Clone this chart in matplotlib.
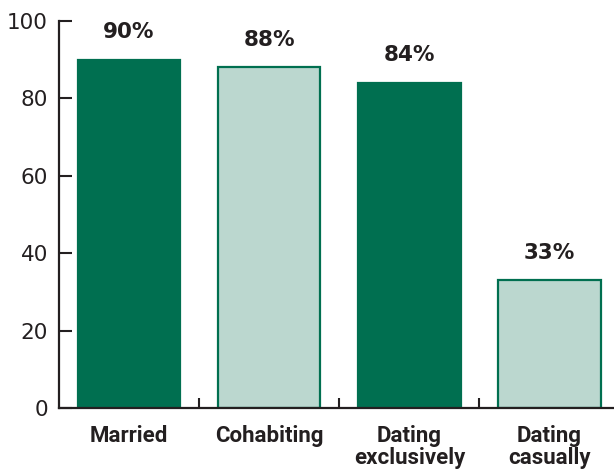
import matplotlib
matplotlib.use("Agg")
import matplotlib.pyplot as plt

categories = ["Married", "Cohabiting", "Dating\nexclusively", "Dating\ncasually"]
values = [90, 88, 84, 33]
value_labels = ["90%", "88%", "84%", "33%"]

dark = "#006f50"
light = "#bbd7cf"
ink = "#231f20"
fills = [dark, light, dark, light]

fig = plt.figure(figsize=(6.14, 4.74), dpi=100)
ax = fig.add_axes([0.096, 0.139, 0.904, 0.817])

x = range(len(categories))
ax.bar(x, values, width=0.73, color=fills, edgecolor=dark, linewidth=1.6)

for i, v in enumerate(values):
    ax.text(i, v + 4.5, value_labels[i], ha="center", va="bottom",
            fontsize=15.5, fontweight="bold", color=ink)

ax.set_xlim(-0.5, 3.46)
ax.set_ylim(0, 100)
ax.set_yticks([0, 20, 40, 60, 80, 100])
ax.tick_params(axis="y", direction="in", length=9, width=1.5, color=ink,
               labelsize=15.5, labelcolor=ink, pad=8)

ax.set_xticks(list(x))
ax.set_xticklabels(categories, fontsize=16, fontweight="bold", color=ink,
                   linespacing=1.0, va="top",
                   family=["Roboto", "DejaVu Sans"])
ax.tick_params(axis="x", length=0, pad=12)
ax.set_xticks([0.5, 1.5, 2.5], minor=True)
ax.tick_params(axis="x", which="minor", direction="in", length=7, width=1.5, color=ink)

for side in ["top", "right"]:
    ax.spines[side].set_visible(False)
for side in ["left", "bottom"]:
    ax.spines[side].set_linewidth(1.6)
    ax.spines[side].set_color(ink)

fig.savefig("out.png", dpi=100)
